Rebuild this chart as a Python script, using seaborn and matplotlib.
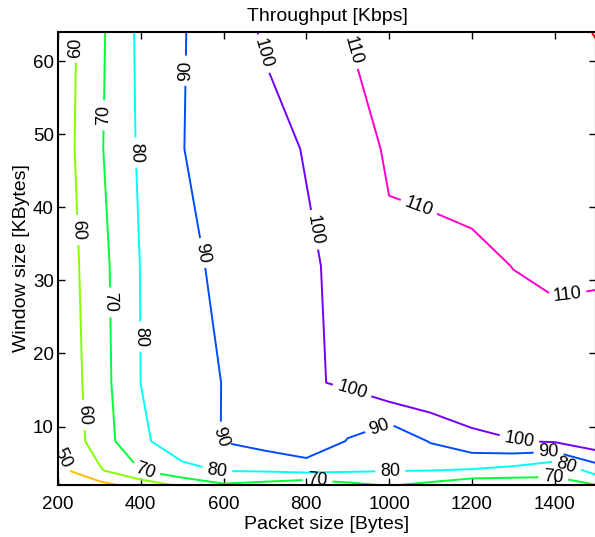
import numpy as np
import seaborn as sns
import matplotlib
matplotlib.use("Agg")
import matplotlib.pyplot as plt

# grid of the measurement
packet_sizes = [200, 300, 400, 500, 600, 700, 800, 900, 1000, 1100, 1200, 1300, 1400, 1500]
window_sizes = [2, 4, 8, 16, 32, 48, 64]

# throughput [Kbps], one row per window size
thr_w2 = [39.5, 46.9, 54.1, 61.8, 68.9, 66.8, 63.0, 67.6, 70.7, 67.5, 62.5, 63.3, 68.8, 69.8]
thr_w4 = [47.0, 58.9, 70.1, 78.0, 80.5, 81.1, 83.0, 81.4, 80.5, 80.1, 79.2, 76.7, 71.0, 84.3]
thr_w8 = [51.0, 64.7, 78.5, 84.5, 90.4, 94.3, 99.5, 89.4, 82.0, 90.7, 97.2, 99.7, 101.0, 107.0]
thr_w16 = [51.6, 65.9, 80.05, 85.2, 90.3, 94.3, 98.8, 101.3, 108.7, 109.8, 109.6, 107.0, 105.8, 102.3]
thr_w32 = [53.1, 66.6, 80.3, 87.3, 92.2, 95.3, 98.8, 102.2, 108.5, 108.5, 108.6, 110.1, 111.5, 112.0]
thr_w48 = [54.1, 68.8, 81.6, 89.8, 93.5, 97.1, 100.5, 106.1, 111.0, 111.7, 113.0, 114.3, 115.7, 117.0]
thr_w64 = [53.7, 68.0, 82.3, 89.4, 95.4, 101.0, 105.5, 110.05, 111.7, 113.4, 115.0, 116.7, 118.3, 120.2]

levels = [40, 50, 60, 70, 80, 90, 100, 110, 120]

# where the contour labels sit (packet size, window size)
label_spots = [(244, 61.9), (246, 36.9), (261, 11.6), (213, 5.7),
               (314, 52.6), (326, 27.0), (411, 3.8), (827, 2.5), (1397, 3.0),
               (382, 47.5), (399, 22.3), (585, 4.1), (1003, 3.8), (1427, 4.4),
               (508, 58.7), (544, 33.7), (585, 8.6), (979, 9.6), (1386, 6.1),
               (694, 61.0), (817, 36.9), (911, 15.0), (1313, 7.8),
               (911, 61.5), (1071, 39.9), (1431, 27.8)]

Z = np.array([thr_w2, thr_w4, thr_w8, thr_w16, thr_w32, thr_w48, thr_w64])

sns.set_style("ticks", {"xtick.direction": "in", "ytick.direction": "in",
                        "axes.edgecolor": "black", "text.color": "black",
                        "axes.labelcolor": "black"})
plt.rcParams['font.family'] = ['Liberation Sans', 'DejaVu Sans']

fig = plt.figure(figsize=(5.95, 5.37), dpi=100)
ax = fig.add_axes([58 / 595, 1 - 485 / 537, 538 / 595, 453 / 537])

cs = ax.contour(packet_sizes, window_sizes, Z, levels=levels, cmap='hsv',
                vmin=40, vmax=120, linewidths=1.4)
ax.clabel(cs, inline=True, fontsize=13, colors='k', fmt='%d', manual=label_spots)

ax.set_xlim(200, 1500)
ax.set_ylim(2, 64)
ax.set_xticks(range(200, 1401, 200))
ax.set_yticks(range(10, 61, 10))
ax.tick_params(direction='in', top=True, right=True, length=5, width=1,
               labelsize=13.5, colors='black')
ax.tick_params(axis='x', pad=8)
ax.tick_params(axis='y', pad=3)
for s in ax.spines.values():
    s.set_linewidth(1.5)

ax.set_xlabel("Packet size [Bytes]", fontsize=14, labelpad=2, color='black')
ax.set_ylabel("Window size [KBytes]", fontsize=14, labelpad=2, color='black')
ax.set_title("Throughput [Kbps]", fontsize=14, pad=8, color='black')

fig.savefig("out.png", dpi=100)
